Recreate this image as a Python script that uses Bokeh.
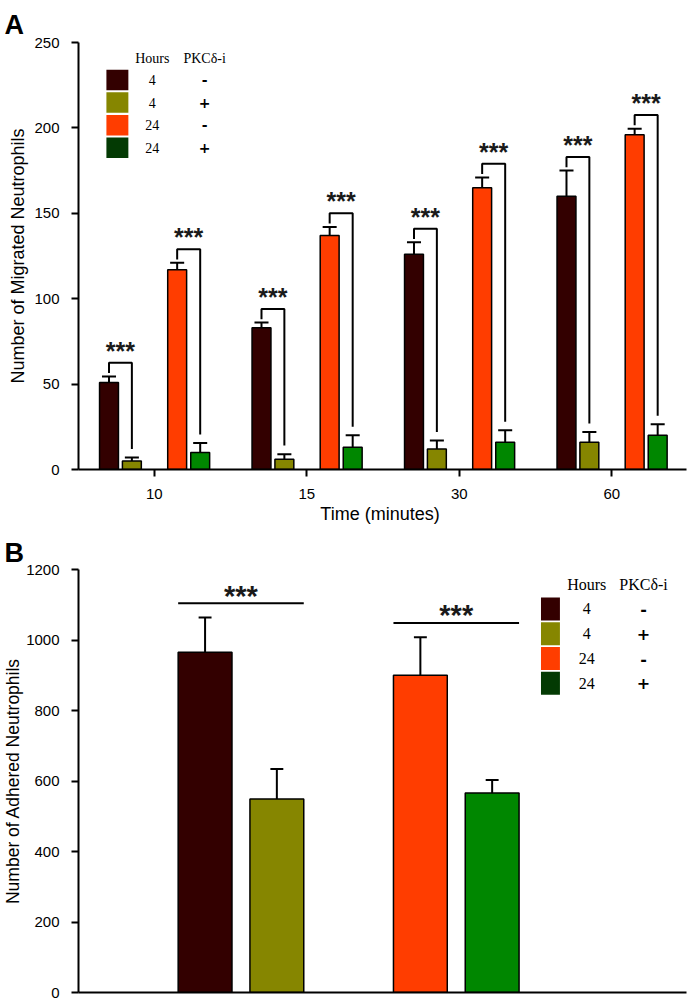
from bokeh.plotting import figure
from bokeh.layouts import column
from bokeh.models import Range1d, FixedTicker
from bokeh.core.properties import value
from bokeh.embed import file_html
from bokeh.resources import INLINE

# ---------------- data ----------------
# Panel A: migrated neutrophils by time (minutes)
times = ["10", "15", "30", "60"]
mig_4h_ctrl = [51, 83, 126, 160]
mig_4h_ctrl_err = [3.5, 3, 7, 15]
mig_4h_inh = [5, 6, 12, 16]
mig_4h_inh_err = [2, 3, 5, 6]
mig_24h_ctrl = [117, 137, 165, 196]
mig_24h_ctrl_err = [4, 5, 6, 3.5]
mig_24h_inh = [10, 13, 16, 20]
mig_24h_inh_err = [5.5, 7, 7, 6.5]

# Panel B: adhered neutrophils (4 h pair, 24 h pair)
adh_ctrl = [965, 900]
adh_ctrl_err = [99, 108]
adh_inh = [549, 566]
adh_inh_err = [85, 37]

legend_hours = ["4", "4", "24", "24"]
legend_pkc = ["-", "+", "-", "+"]
sig_label = "***"

# ---------------- styles ----------------
SANS = "Liberation Sans"
SERIF = "Liberation Serif"
C_4 = "#330000"
C_4I = "#868600"
C_24 = "#FF3D00"
C_24I = "#008700"
C_24I_LEG = "#033A03"
bar_colors = [C_4, C_4I, C_24, C_24I]
legend_colors = [C_4, C_4I, C_24, C_24I_LEG]


def style_axes(p, ylabel_size, label_standoff):
    p.xgrid.visible = False
    p.ygrid.visible = False
    p.outline_line_color = None
    for ax in p.axis:
        ax.axis_line_width = 2
        ax.axis_line_color = "black"
        ax.major_tick_line_width = 2
        ax.major_tick_line_color = "black"
        ax.major_tick_out = 7
        ax.major_tick_in = 0
        ax.minor_tick_line_color = None
        ax.major_label_text_font = SANS
        ax.major_label_text_font_size = "15px"
        ax.major_label_text_color = "black"
        ax.axis_label_text_font = SANS
        ax.axis_label_text_font_style = "normal"
        ax.axis_label_text_color = "black"
    p.yaxis.axis_label_text_font_size = ylabel_size
    p.yaxis.major_label_standoff = 12
    p.yaxis.axis_label_standoff = label_standoff


def style_title(p, letter, standoff, line_height):
    p.title.text = letter
    p.title.text_font = SANS
    p.title.text_font_size = "27px"
    p.title.text_font_style = "bold"
    p.title.text_color = "black"
    p.title.align = "left"
    p.title.vertical_align = "top"
    p.title.offset = -74
    p.title.standoff = standoff
    p.title.text_line_height = line_height


def draw_legend(p, xs, xh, xk, y0, pitch, w, h, yhead, fsize):
    ys = [y0 - i * pitch for i in range(4)]
    p.rect(x=[xs] * 4, y=ys, width=w, height=h, fill_color=legend_colors, line_color=None)
    p.text(x=[xh] * 4, y=ys, text=legend_hours, text_font=value(SERIF), text_font_size=fsize,
           text_align="center", text_baseline="middle", text_color="black")
    p.text(x=[xk] * 4, y=ys, text=legend_pkc, text_font=value("DejaVu Sans"), text_font_size=fsize,
           text_font_style="bold", text_align="center", text_baseline="middle", text_color="black")
    p.text(x=[xh, xk], y=[yhead, yhead], text=["Hours", "PKCδ-i"], text_font=value(SERIF),
           text_font_size=fsize, text_align="center", text_baseline="middle", text_color="black")


# ---------------- Panel A ----------------
pA = figure(width=690, height=533, output_backend="svg", toolbar_location=None,
            x_range=Range1d(-0.497, 3.490), y_range=Range1d(0, 250),
            min_border_left=76, min_border_right=4, min_border_top=42, min_border_bottom=64)
style_axes(pA, "18px", 3)
style_title(pA, "A", 2, 0.7)
pA.xaxis.ticker = FixedTicker(ticks=[0, 1, 2, 3])
pA.xaxis.major_label_overrides = {i: t for i, t in enumerate(times)}
pA.xaxis.major_label_standoff = 12
pA.xaxis.axis_label = "Time  (minutes)"
pA.xaxis.axis_label_text_font_size = "18px"
pA.xaxis.axis_label_standoff = 2
pA.yaxis.ticker = FixedTicker(ticks=[0, 50, 100, 150, 200, 250])
pA.yaxis.axis_label = "Number of Migrated Neutrophils"

offsA = [-0.297, -0.147, 0.150, 0.301]
bwA = 0.124
capA = 0.046
seriesA = [(mig_4h_ctrl, mig_4h_ctrl_err), (mig_4h_inh, mig_4h_inh_err),
           (mig_24h_ctrl, mig_24h_ctrl_err), (mig_24h_inh, mig_24h_inh_err)]
xpos = []
for k, (vals, errs) in enumerate(seriesA):
    xs = [i + offsA[k] for i in range(len(times))]
    xpos.append(xs)
    tops = [v + e for v, e in zip(vals, errs)]
    pA.segment(x0=xs, y0=vals, x1=xs, y1=tops, line_color="black", line_width=2)
    pA.segment(x0=[x - capA for x in xs], y0=tops, x1=[x + capA for x in xs], y1=tops,
               line_color="black", line_width=2)
    pA.vbar(x=xs, top=vals, width=bwA, bottom=0, fill_color=bar_colors[k],
            line_color="black", line_width=1.5)

# significance brackets
bx, by, sx, sy = [], [], [], []
for (L, R) in [(0, 1), (2, 3)]:
    for i in range(len(times)):
        lcap = seriesA[L][0][i] + seriesA[L][1][i]
        rcap = seriesA[R][0][i] + seriesA[R][1][i]
        top = lcap + 8
        xl, xr = xpos[L][i], xpos[R][i]
        bx.append([xl, xl, xr, xr])
        by.append([lcap + 2, top, top, rcap + 5])
        sx.append((xl + xr) / 2)
        sy.append(top + 7)
pA.multi_line(xs=bx, ys=by, line_color="black", line_width=2)
pA.text(x=sx, y=sy, text=[sig_label] * len(sx), text_font=value(SANS), text_font_size="25px",
        text_font_style="bold", text_align="center", text_baseline="alphabetic",
        text_color="#1a1a1a")

draw_legend(pA, xs=-0.242, xh=-0.013, xk=0.33, y0=228.0, pitch=13.2, w=0.144, h=12.0,
            yhead=240.6, fsize="14px")

# ---------------- Panel B ----------------
pB = figure(width=690, height=468, output_backend="svg", toolbar_location=None,
            x_range=Range1d(-0.7546, 2.0694), y_range=Range1d(0, 1200),
            min_border_left=76, min_border_right=4, min_border_top=36, min_border_bottom=9)
style_axes(pB, "17.5px", 0)
style_title(pB, "B", 0, 0.5)
pB.xaxis.ticker = FixedTicker(ticks=[])
pB.xaxis.major_tick_out = 0
pB.xaxis.major_label_standoff = 0
pB.yaxis.ticker = FixedTicker(ticks=[0, 200, 400, 600, 800, 1000, 1200])
pB.yaxis.axis_label = "Number of Adhered Neutrophils"

offB = 0.1667
bwB = 0.25
capB = 0.030
groupsB = list(range(len(adh_ctrl)))
seriesB = [(adh_ctrl, adh_ctrl_err, -offB), (adh_inh, adh_inh_err, offB)]
xB = []
for j, (vals, errs, off) in enumerate(seriesB):
    xs = [g + off for g in groupsB]
    xB.append(xs)
    tops = [v + e for v, e in zip(vals, errs)]
    cols = [bar_colors[2 * g + j] for g in groupsB]
    pB.segment(x0=xs, y0=vals, x1=xs, y1=tops, line_color="black", line_width=2)
    pB.segment(x0=[x - capB for x in xs], y0=tops, x1=[x + capB for x in xs], y1=tops,
               line_color="black", line_width=2)
    pB.vbar(x=xs, top=vals, width=bwB, bottom=0, fill_color=cols,
            line_color="black", line_width=1.5)

lx0 = [x - bwB / 2 for x in xB[0]]
lx1 = [x + bwB / 2 for x in xB[1]]
ly = [v + e + 40 for v, e in zip(adh_ctrl, adh_ctrl_err)]
pB.segment(x0=lx0, y0=ly, x1=lx1, y1=ly, line_color="black", line_width=2)
pB.text(x=[(a + b) / 2 for a, b in zip(lx0, lx1)], y=[v + 22 for v in ly], text=[sig_label] * len(ly),
        text_font=value(SANS), text_font_size="29px", text_font_style="bold",
        text_align="center", text_baseline="alphabetic", text_color="#1a1a1a")

draw_legend(pB, xs=1.4375, xh=1.606, xk=1.870, y0=1088, pitch=70.3, w=0.088, h=65,
            yhead=1158, fsize="16px")

layout = column(pA, pB, spacing=0)
open("out.html", "w").write(file_html(layout, INLINE))
